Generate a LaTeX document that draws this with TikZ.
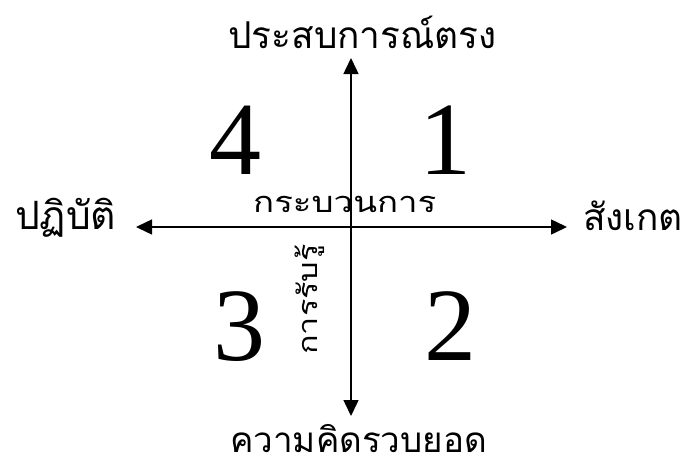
\documentclass[tikz,border=0pt]{standalone}
\usepackage{fontspec}
\setmainfont{Liberation Serif}
\newfontfamily\thaifont[Script=Thai]{Loma}
\newfontfamily\thaiwide[Script=Thai,FakeStretch=1.2]{Loma}
\usetikzlibrary{arrows.meta}
\begin{document}
\begin{tikzpicture}[x=1pt,y=-1pt,
  axis/.style={line width=1.5pt,-{Triangle[length=16pt,width=15pt]}},
  th/.style={font=\thaifont\fontsize{#1}{#1}\selectfont, inner sep=0pt, anchor=base west},
  thsmall/.style={font=\thaiwide\fontsize{#1}{#1}\selectfont, inner sep=0pt, anchor=base west},
  num/.style={font=\fontsize{104}{110}\selectfont, inner sep=0pt}]
\useasboundingbox (0,0) rectangle (682,466);
\coordinate (c) at (351,227);
\coordinate (top) at (351,58);
\coordinate (bot) at (351,416);
\coordinate (lft) at (136,227);
\coordinate (rgt) at (567,227);
\draw[axis] (c) -- (top);
\draw[axis] (c) -- (bot);
\draw[axis] (c) -- (lft);
\draw[axis] (c) -- (rgt);
\node[th=37] (t1) at (228,48) {ประสบการณ์ตรง};
\node[th=35, text depth=0pt] (t2) at (230,452) {ความคิดรวบยอด};
\node[th=39] (t3) at (15,229) {ปฏิบัติ};
\node[th=37] (t4) at (583,230) {สังเกต};
\node[thsmall=29] (t5) at (253,212) {กระบวนการ};
\node[thsmall=27, rotate=90] (t6) at (317,355) {การรับรู้};
\node[num] (n4) at (235,140) {4};
\node[num] (n1) at (445,140) {1};
\node[num] (n3) at (239,327) {3};
\node[num] (n2) at (450,326) {2};
\end{tikzpicture}
\end{document}
